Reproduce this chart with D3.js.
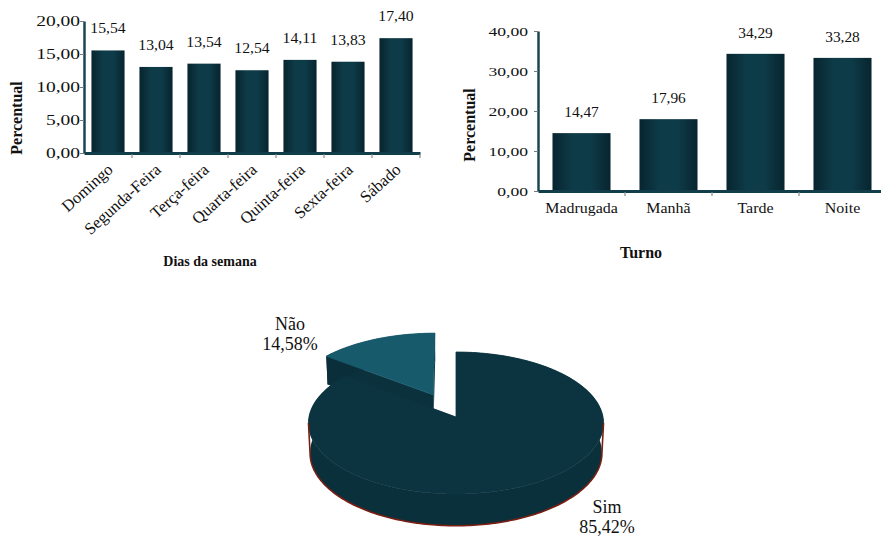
<!DOCTYPE html>
<html>
<head>
<meta charset="utf-8">
<script src="https://cdn.jsdelivr.net/npm/d3@7"></script>
<style>
  body { margin: 0; background: #fff; }
  svg { display: block; font-family: "Liberation Serif", "Times New Roman", serif; }
</style>
</head>
<body>
<svg id="chart" width="881" height="536"></svg>
<script>
// ---- data ----
const dias = ["Domingo", "Segunda-Feira", "Terça-feira", "Quarta-feira", "Quinta-feira", "Sexta-feira", "Sábado"];
const diasValores = [15.54, 13.04, 13.54, 12.54, 14.11, 13.83, 17.40];
const diasTicks = [0, 5, 10, 15, 20];

const turnos = ["Madrugada", "Manhã", "Tarde", "Noite"];
const turnosValores = [14.47, 17.96, 34.29, 33.28];
const turnosTicks = [0, 10, 20, 30, 40];

const respostas = ["Sim", "Não"];
const respostasValores = [85.42, 14.58];

// ---- helpers ----
const br = d3.formatLocale({ decimal: ",", thousands: ".", grouping: [3], currency: ["R$", ""] });
const f2 = br.format(".2f");

const svg = d3.select("#chart");
const defs = svg.append("defs");
const grad = defs.append("linearGradient").attr("id", "barGrad")
  .attr("x1", "0%").attr("x2", "100%").attr("y1", "0%").attr("y2", "0%");
grad.append("stop").attr("offset", "0%").attr("stop-color", "#07252f");
grad.append("stop").attr("offset", "35%").attr("stop-color", "#0e3b48");
grad.append("stop").attr("offset", "65%").attr("stop-color", "#0e3b48");
grad.append("stop").attr("offset", "100%").attr("stop-color", "#07252f");

// text placed at (x,y) with an optional horizontal stretch
function label(g, txt, x, y, o) {
  return g.append("text")
    .attr("transform", `translate(${x},${y}) scale(${o.sx || 1},1)` + (o.rot ? ` rotate(${o.rot})` : ""))
    .attr("text-anchor", o.anchor || "middle")
    .attr("font-size", o.fs)
    .attr("font-weight", o.bold ? "bold" : null)
    .attr("fill", "#111")
    .text(txt);
}

function barChart(o) {
  const g = svg.append("g");
  const x = d3.scaleBand().domain(o.cats).range(o.xr)
    .paddingInner(o.pad).paddingOuter(o.pad / 2);
  const y = d3.scaleLinear().domain([0, o.ticks[o.ticks.length - 1]]).range(o.yr);

  // bars
  g.selectAll("rect.bar").data(o.vals).join("rect")
    .attr("class", "bar")
    .attr("x", (d, i) => x(o.cats[i]))
    .attr("y", d => y(d))
    .attr("width", x.bandwidth())
    .attr("height", d => y(0) - y(d))
    .attr("fill", "url(#barGrad)");

  // value labels
  o.vals.forEach((v, i) => {
    label(g, f2(v), x(o.cats[i]) + x.bandwidth() / 2, y(v) - o.valGap, { fs: o.valFs, sx: o.valSx });
  });

  // y axis
  const ya = g.append("g").attr("transform", `translate(${o.xr[0]},0)`)
    .call(d3.axisLeft(y).tickValues(o.ticks).tickFormat(f2).tickSize(4).tickSizeOuter(0))
    .attr("font-family", null).attr("font-size", null);
  ya.select(".domain").attr("stroke", "#1b4654").attr("stroke-width", 2.5);
  ya.selectAll(".tick line").attr("stroke", "#7a7a7a");
  ya.selectAll(".tick text")
    .attr("fill", "#111")
    .attr("font-size", o.tickFs)
    .attr("x", -o.tickGap / o.tickSx)
    .attr("transform", `scale(${o.tickSx},1)`);

  // x axis
  const xa = g.append("g").attr("transform", `translate(0,${o.yr[0]})`)
    .call(d3.axisBottom(x).tickSize(0).tickSizeOuter(0))
    .attr("font-family", null).attr("font-size", null);
  xa.select(".domain").attr("stroke", "#123d4a").attr("stroke-width", 3);
  xa.selectAll(".tick text").remove();
  // boundary tick marks between categories
  d3.range(1, o.cats.length + 1).forEach(i => {
    const bx = x.range()[0] + i * x.step();
    xa.append("line").attr("x1", bx).attr("x2", bx).attr("y1", 1).attr("y2", 5)
      .attr("stroke", "#8a8a8a").attr("stroke-width", 1.2);
  });
  xa.selectAll(".tick").each(function (d) {
    const t = d3.select(this);
    if (o.rotate) {
      label(t, d, o.catDx, o.catDy, { fs: o.catFs, rot: o.rotate, anchor: "end", sx: o.catSx });
    } else {
      label(t, d, 0, o.catDy, { fs: o.catFs, sx: o.catSx });
    }
  });

  // axis titles
  label(g, "Percentual", o.yTitle[0], o.yTitle[1], { fs: 16, bold: true, rot: -90 });
  label(g, o.xTitle, o.xTitlePos[0], o.xTitlePos[1], { fs: o.xTitleFs, bold: true });
}

barChart({
  cats: dias, vals: diasValores, ticks: diasTicks,
  xr: [84, 420], yr: [153, 21], pad: 0.31,
  valGap: 17, valFs: 15, valSx: 1.05,
  tickFs: 15, tickSx: 1.3, tickGap: 4,
  rotate: -42, catDx: 6, catDy: 18, catFs: 16.5, catSx: 1.0,
  yTitle: [22, 118], xTitle: "Dias da semana", xTitlePos: [210, 266], xTitleFs: 14
});

barChart({
  cats: turnos, vals: turnosValores, ticks: turnosTicks,
  xr: [538, 886], yr: [191, 31], pad: 0.333,
  valGap: 16, valFs: 14, valSx: 1.1,
  tickFs: 13.5, tickSx: 1.3, tickGap: 10,
  rotate: 0, catDy: 22, catFs: 14.5, catSx: 1.1,
  yTitle: [475, 125], xTitle: "Turno", xTitlePos: [641, 258], xTitleFs: 16
});

// ---- 3D pie (perspective projection of a tilted disc) ----
const phi = Math.asin(70.5 / 147);
const P = { cx: 456, cy: 417, k: 147, phi: phi, dn: Math.cos(phi) / 0.085, depth: 0.234, explode: 0.36 };
const cphi = Math.cos(P.phi), sphi = Math.sin(P.phi);
function proj(t, r, h, off) {
  const x = r * Math.sin(t) + off[0];
  const z = r * Math.cos(t) + off[1];
  const yv = z * sphi + h * cphi;
  const d = P.dn + z * cphi - h * sphi;
  const s = P.k * P.dn / d;
  return [P.cx + x * s, P.cy - yv * s];
}
function arcPts(a0, a1, r, h, off) {
  const n = Math.max(2, Math.ceil(Math.abs(a1 - a0) / 0.02));
  return d3.range(n + 1).map(i => proj(a0 + (a1 - a0) * i / n, r, h, off));
}
const line = d3.line();

const pieGen = d3.pie().sort(null).value(d => d);
const arcs = pieGen(respostasValores).map((a, i) => {
  const mid = (a.startAngle + a.endAngle) / 2;
  const e = respostas[i] === "Não" ? P.explode : 0;
  return { ...a, name: respostas[i], off: [e * Math.sin(mid), e * Math.cos(mid)] };
});
const pieStyle = {
  "Sim": { top: "#0b3440", side: "#0a303c", wall: "#0a2f3a" },
  "Não": { top: "#175a6c", side: "#0a2f3a", wall: "#0b313d" }
};
const pg = svg.append("g");
// farther slice first
const order = arcs.slice().sort((a, b) => b.off[1] - a.off[1]);
order.forEach(a => {
  const st = pieStyle[a.name];
  const h = -P.depth;
  [a.startAngle, a.endAngle].forEach(t => {
    const pts = [proj(0, 0, 0, a.off), proj(t, 1, 0, a.off), proj(t, 1, h, a.off), proj(0, 0, h, a.off)];
    pg.append("path").attr("d", line(pts) + "Z").attr("fill", st.wall);
  });
  const outer = arcPts(a.startAngle, a.endAngle, 1, 0, a.off)
    .concat(arcPts(a.endAngle, a.startAngle, 1, h, a.off));
  pg.append("path").attr("d", line(outer) + "Z").attr("fill", st.side);
  const top = [proj(0, 0, 0, a.off)].concat(arcPts(a.startAngle, a.endAngle, 1, 0, a.off));
  pg.append("path").attr("d", line(top) + "Z").attr("fill", st.top)
    .attr("stroke", st.top).attr("stroke-width", 0.8).attr("stroke-linejoin", "round");
});
// rim outline along the front of the large slice
const ext = Math.acos(-cphi / P.dn);
const sim = arcs.find(a => a.name === "Sim");
const rim = [proj(ext, 1, 0, sim.off)].concat(arcPts(ext, 2 * Math.PI - ext, 1, -P.depth, sim.off), [proj(2 * Math.PI - ext, 1, 0, sim.off)]);
pg.append("path").attr("d", line(rim)).attr("fill", "none").attr("stroke", "#7a1e12").attr("stroke-width", 1.6);

// pie labels
const pieLabelPos = { "Sim": [607, 513], "Não": [290, 330] };
arcs.forEach(a => {
  const [lx, ly] = pieLabelPos[a.name];
  label(pg, a.name, lx, ly, { fs: 18 });
  label(pg, br.format(".2f")(a.value) + "%", lx, ly + 20, { fs: 18 });
});
</script>
</body>
</html>
